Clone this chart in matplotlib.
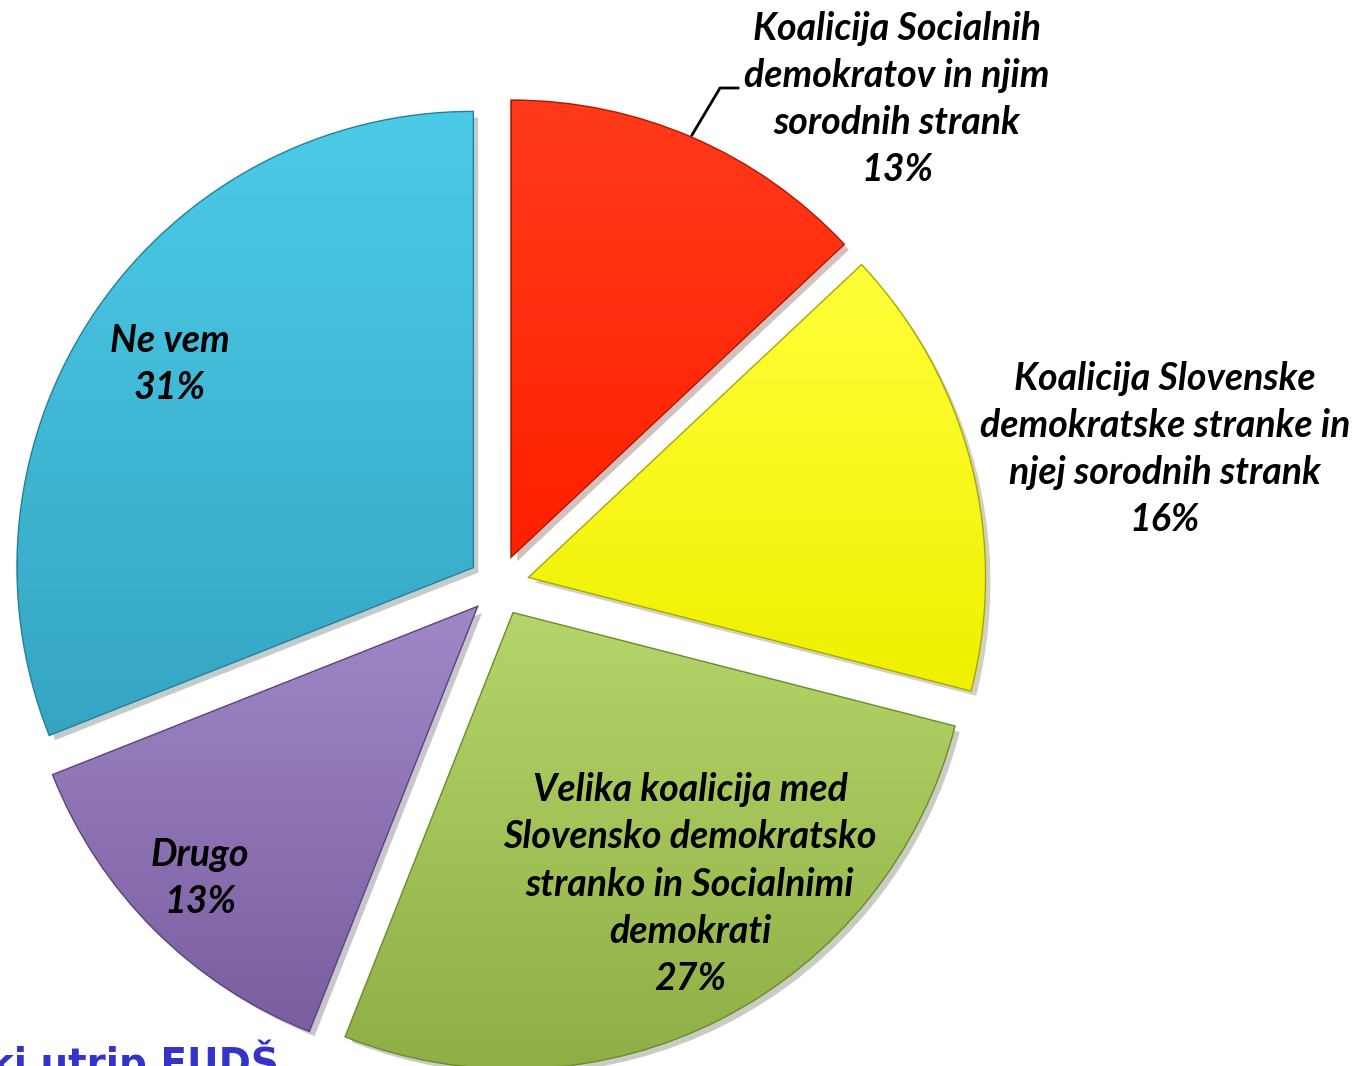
import numpy as np
import matplotlib.pyplot as plt
import matplotlib.patheffects as pe
from matplotlib.colors import LinearSegmentedColormap

# daten
labels = ['Koalicija Socialnih\ndemokratov in njim\nsorodnih strank',
          'Koalicija Slovenske\ndemokratske stranke in\nnjej sorodnih strank',
          'Velika koalicija med\nSlovensko demokratsko\nstranko in Socialnimi\ndemokrati',
          'Drugo',
          'Ne vem']
shares = [13, 16, 27, 13, 31]
col_top = ['#ff3a1a', '#ffff3a', '#b5d56a', '#a088c8', '#4ccbe9']
col_bot = ['#ff2000', '#f0f000', '#8fae45', '#7a5ea0', '#35a5c2']
col_edge = ['#b01800', '#a8a800', '#6d8a2c', '#5a437f', '#23819c']

W, H = 1358, 1066
R = 455
fig = plt.figure(figsize=(W / 100, H / 100), dpi=100)
ax = fig.add_axes([0, 0, 1, 1])

# explode bei pie ist absolut, nicht relativ zum radius
wedges, _ = ax.pie(shares, startangle=90, counterclock=False, center=(499, H - 585),
                   radius=R, explode=[0.07 * R] * len(shares), frame=True)
ax.set_xlim(0, W)
ax.set_ylim(0, H)
ax.set_aspect('equal')
ax.axis('off')

for w, ct, cb, ce in zip(wedges, col_top, col_bot, col_edge):
    w.set_facecolor(cb)
    w.set_edgecolor(ce)
    w.set_linewidth(2)
    w.set_path_effects([pe.SimplePatchShadow(offset=(4, -4), alpha=0.25), pe.Normal()])
    bb = w.get_path().get_extents(w.get_transform())
    x0, y0, x1, y1 = ax.transData.inverted().transform([[bb.x0, bb.y0], [bb.x1, bb.y1]]).ravel()
    cmap = LinearSegmentedColormap.from_list('g', [cb, ct])
    grad = np.linspace(0, 1, 256).reshape(-1, 1)
    im = ax.imshow(grad, cmap=cmap, extent=[x0, x1, y0, y1], origin='lower',
                   aspect='auto', zorder=w.get_zorder() + 0.1)
    im.set_clip_path(w)

ax.set_xlim(0, W)
ax.set_ylim(0, H)

# beschriftung (pixel oben-links)
txt_pos = [(897, 99), (1165, 449), (690, 884), (200, 878), (170, 364)]
for lab, s, (x, y) in zip(labels, shares, txt_pos):
    ax.text(x, H - y, lab + '\n' + str(s) + '%', ha='center', va='center',
            fontsize=27, fontweight='bold', fontstyle='italic', family='Lato',
            linespacing=1.42, color='black', zorder=10)

# fuehrungslinie
ax.plot([692, 720, 738], [H - 135, H - 88, H - 88], color='black', lw=2, zorder=10)

ax.text(-12, H - 1084, 'ki utrip FUDŠ', ha='left', va='bottom', fontsize=28,
        fontweight='bold', color='#3434c8', family='DejaVu Sans', zorder=10)

fig.savefig('out.png', dpi=100)
